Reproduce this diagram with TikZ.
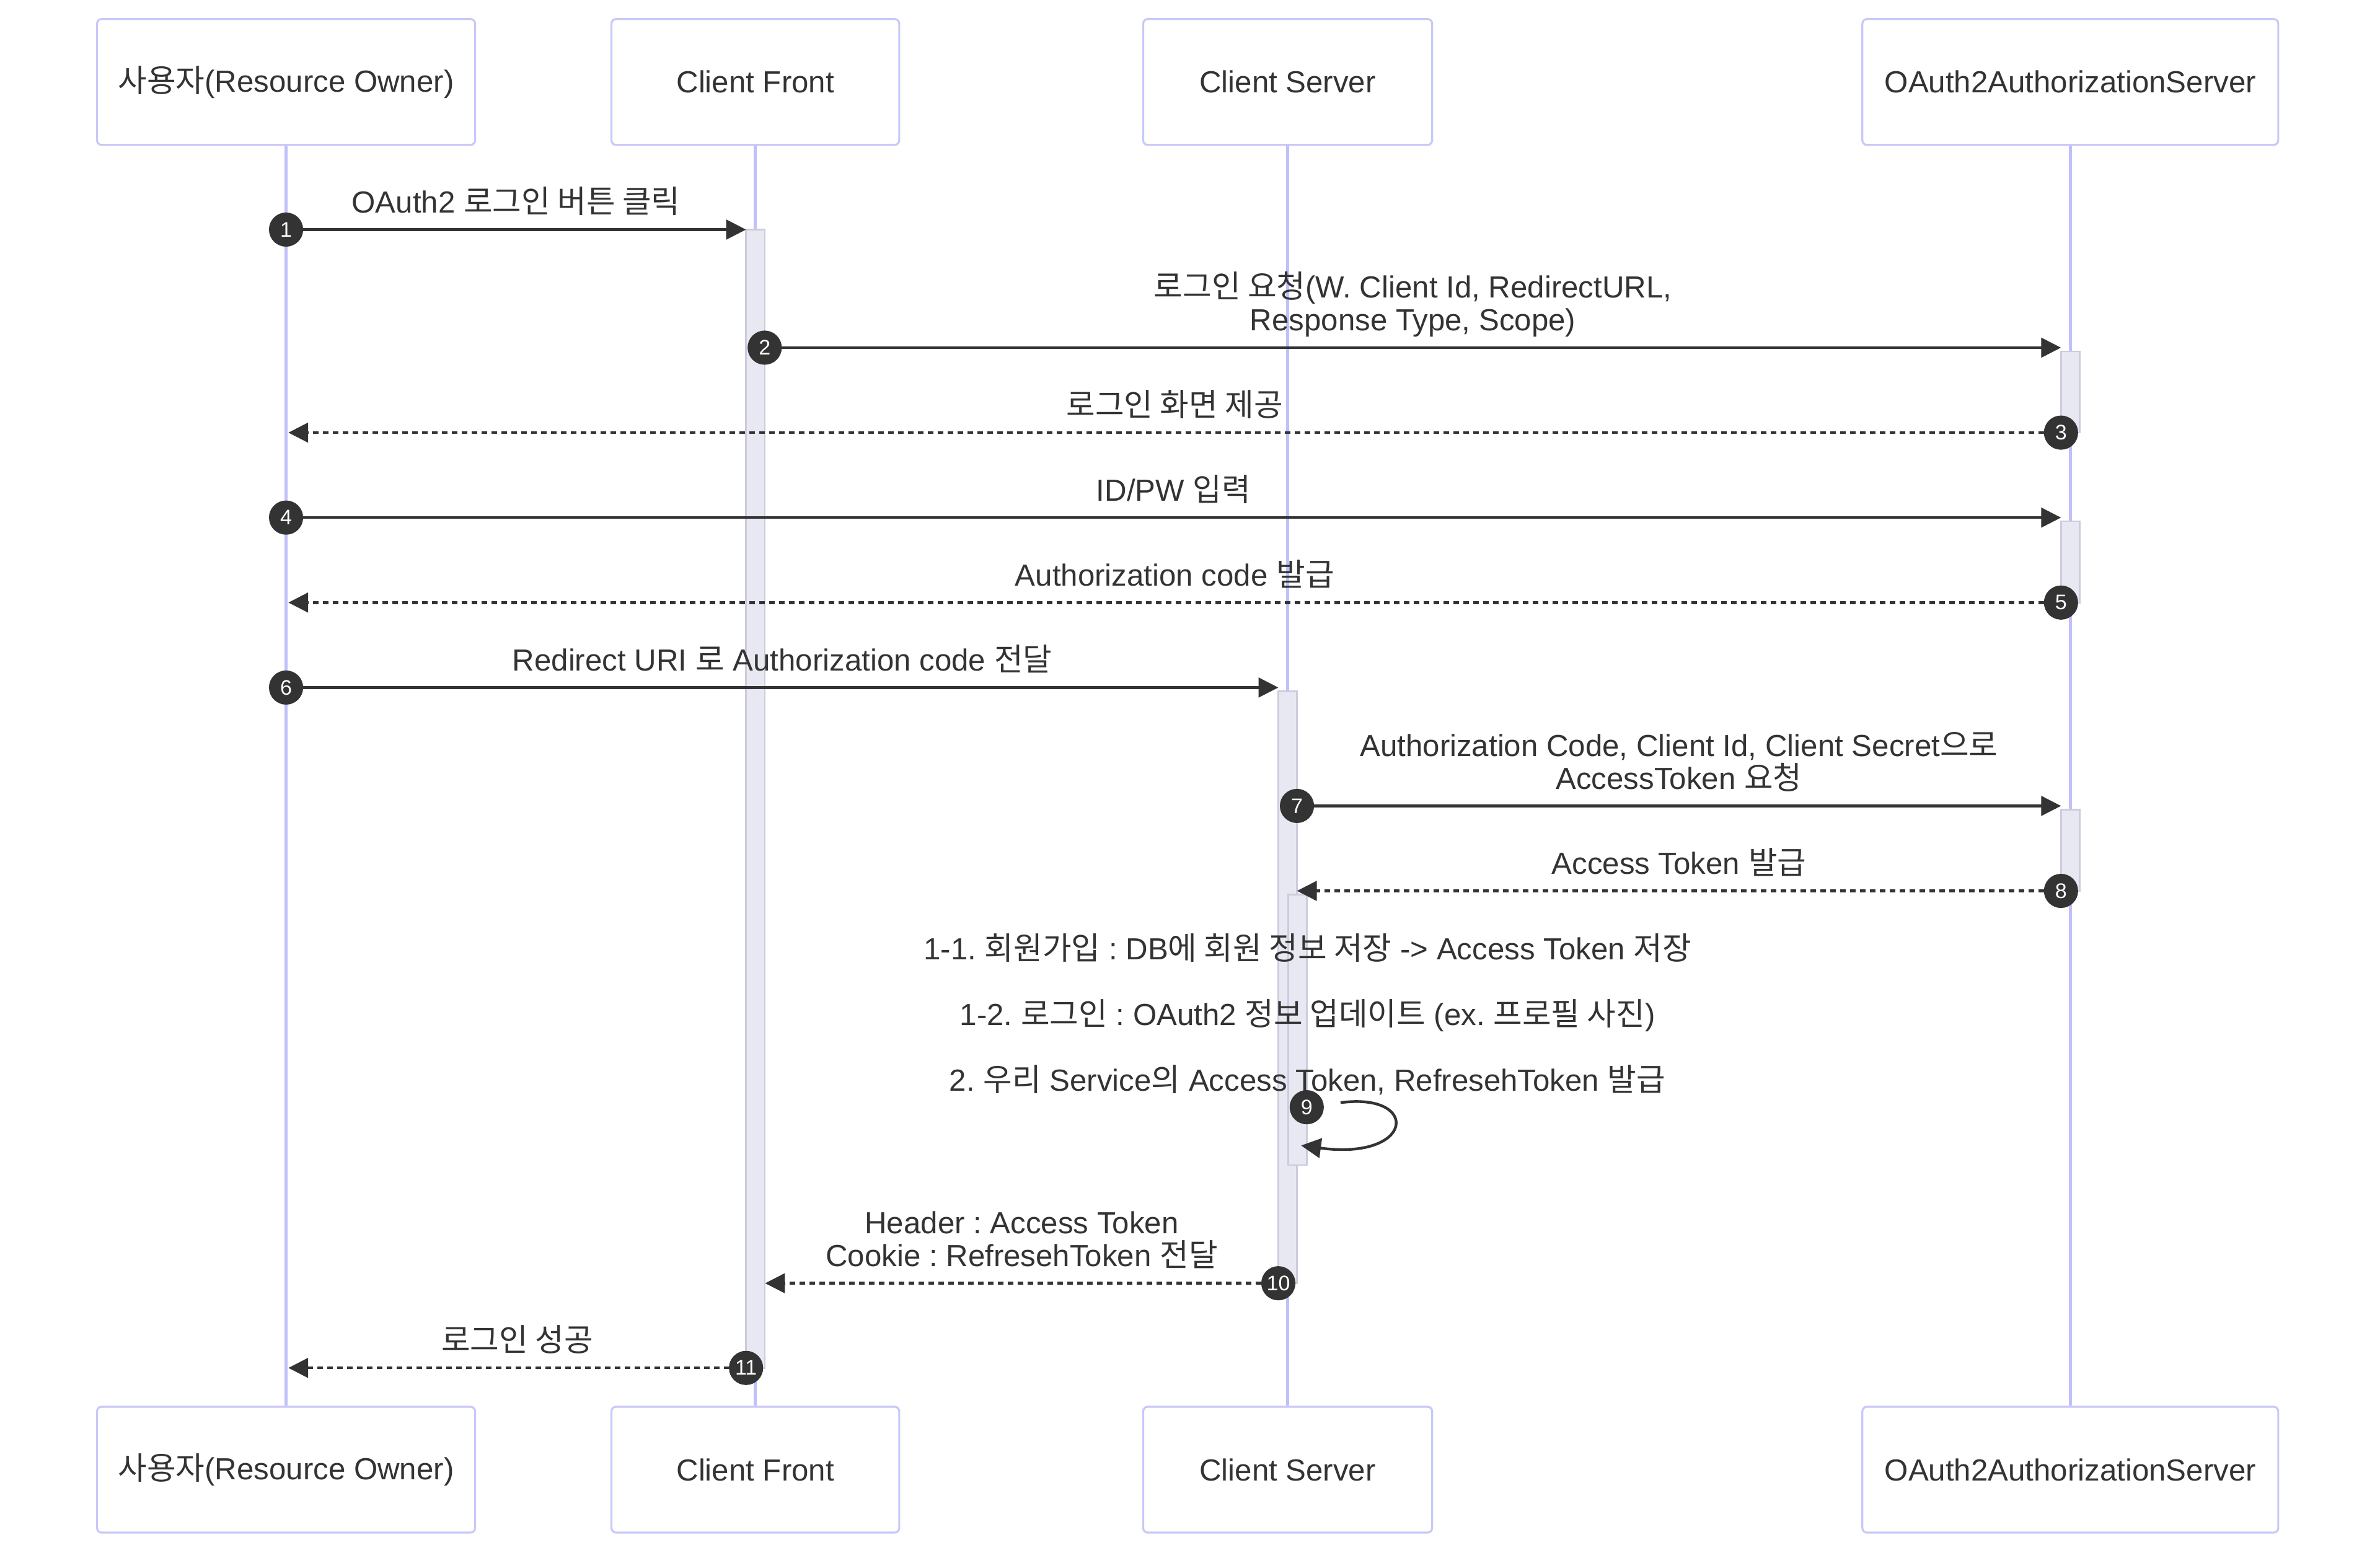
\documentclass[tikz,border=0pt]{standalone}
\usepackage{fontspec}
\setmainfont{Liberation Sans}
\newfontfamily\krfont[Scale=1.03]{Noto Sans CJK KR}
\newcommand{\kor}[1]{{\krfont #1}}
\frenchspacing
\usetikzlibrary{arrows.meta, positioning}

\definecolor{ink}{RGB}{51,51,51}
\definecolor{actorline}{RGB}{200,200,250}
\definecolor{lifeline}{RGB}{192,192,250}
\definecolor{actfill}{RGB}{232,232,242}
\definecolor{actdraw}{RGB}{204,204,222}

\tikzset{
  actor/.style = {draw=actorline, line width=1.3pt, fill=white, rounded corners=3pt,
                  minimum height=82.5pt, text=ink, font=\fontsize{20}{21.5}\selectfont},
  life/.style = {draw=lifeline, line width=2pt},
  bar/.style = {fill=actfill, draw=actdraw, line width=1pt},
  msg/.style = {draw=ink, line width=1.8pt, shorten <=11pt, -{Triangle[length=13pt, width=12.8pt]}},
  reply/.style = {msg, dash pattern=on 3.7pt off 2.8pt},
  num/.style = {circle, fill=ink, text=white, inner sep=0pt, minimum size=22.4pt,
                font=\fontsize{13.8}{14}\selectfont},
  note/.style = {text=ink, inner sep=0pt, align=center, anchor=base,
                 font=\fontsize{20}{21.5}\selectfont},
  lbl/.style = {note, yshift=11pt}
}

\begin{document}
\begin{tikzpicture}[x=1pt, y=-1pt, on grid]
\useasboundingbox (0,0) rectangle (1560,1021.3);

% participants
\node (u) [actor, minimum width=247.8pt] at (187.5,53.75) {\kor{사용자}(Resource Owner)};
\node (cf) [actor, minimum width=188.6pt, right=307.6pt of u] {Client Front};
\node (cs) [actor, minimum width=189.4pt, right=348.9pt of cf] {Client Server};
\node (as) [actor, minimum width=272.6pt, right=513pt of cs] {OAuth2AuthorizationServer};

\foreach \a/\w/\t in {u/247.8/{\kor{사용자}(Resource Owner)}, cf/188.6/Client Front,
                      cs/189.4/Client Server, as/272.6/OAuth2AuthorizationServer} {
  \node (\a2) [actor, minimum width=\w pt, below=909.65pt of \a] {\t};
  \draw [life] (\a) -- (\a2);
}

% activations
\foreach \x/\a/\b in {495.1/150.5/896.7, 1357/230.3/283.6, 1357/341.7/395,
                      844/453.1/841.2, 1357/530.7/584, 850.4/586.4/763.8}
  \draw [bar] (\x-6.1,\a) rectangle (\x+6.1,\b);

% messages
\node (n1) [num] at (187.5,150.5) {1};
\coordinate (t1) at (489,150.5);
\draw [msg] (n1.center) -- node [lbl] {OAuth2 \kor{로그인 버튼 클릭}} (t1);

\node (n2) [num] at (501.2,227.9) {2};
\coordinate (t2) at (1350.9,227.9);
\draw [msg] (n2.center) -- node [lbl] {\kor{로그인 요청}(W. Client Id, RedirectURL,\\Response Type, Scope)} (t2);

\node (n3) [num] at (1350.9,283.6) {3};
\coordinate (t3) at (189,283.6);
\draw [reply] (n3.center) -- node [lbl] {\kor{로그인 화면 제공}} (t3);

\node (n4) [num] at (187.5,339.3) {4};
\coordinate (t4) at (1350.9,339.3);
\draw [msg] (n4.center) -- node [lbl] {ID/PW \kor{입력}} (t4);

\node (n5) [num] at (1350.9,395) {5};
\coordinate (t5) at (189,395);
\draw [reply] (n5.center) -- node [lbl] {Authorization code \kor{발급}} (t5);

\node (n6) [num] at (187.5,450.7) {6};
\coordinate (t6) at (837.9,450.7);
\draw [msg] (n6.center) -- node [lbl] {Redirect URI \kor{로} Authorization code \kor{전달}} (t6);

\node (n7) [num] at (850.1,528.3) {7};
\coordinate (t7) at (1350.9,528.3);
\draw [msg] (n7.center) -- node [lbl] {Authorization Code, Client Id, Client Secret\kor{으로}\\AccessToken \kor{요청}} (t7);

\node (n8) [num] at (1350.9,584) {8};
\coordinate (t8) at (850.1,584);
\draw [reply] (n8.center) -- node [lbl] {Access Token \kor{발급}} (t8);

\node (note9a) [note] at (857,629) {1-1. \kor{회원가입} : DB\kor{에 회원 정보 저장} -> Access Token \kor{저장}};
\node (note9b) [note] at (857,672) {1-2. \kor{로그인} : OAuth2 \kor{정보 업데이트} (ex. \kor{프로필 사진})};
\node (note9c) [note] at (857,715.3) {2. \kor{우리} Service\kor{의} Access Token, RefresehToken \kor{발급}};
\node (n9) [num] at (856.5,725.8) {9};
\coordinate (t9) at (852.8,750.9);
\draw [msg] (n9) .. controls (931,715.8) and (927.5,760.9) .. (t9);

\node (n10) [num] at (837.9,841.2) {10};
\coordinate (t10) at (501.5,841.2);
\draw [reply] (n10.center) -- node [lbl] {Header : Access Token\\Cookie : RefresehToken \kor{전달}} (t10);

\node (n11) [num] at (489,896.7) {11};
\coordinate (t11) at (189,896.7);
\draw [reply] (n11.center) -- node [lbl] {\kor{로그인 성공}} (t11);

\end{tikzpicture}
\end{document}
